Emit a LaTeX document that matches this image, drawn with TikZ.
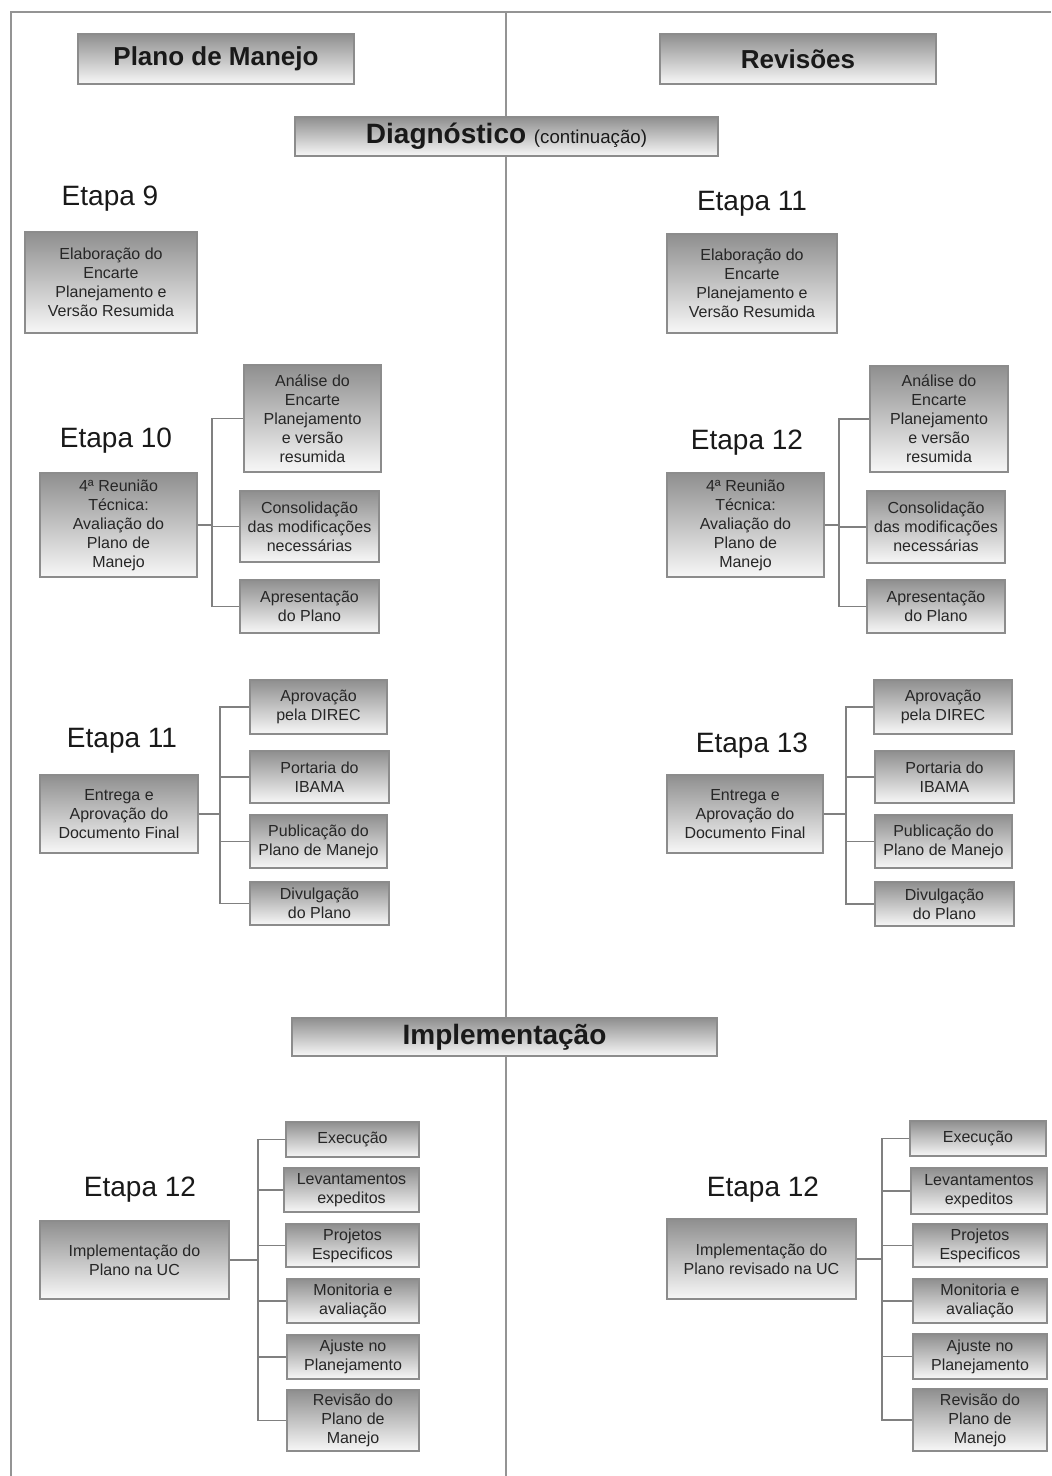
\documentclass[tikz,border=0pt]{standalone}
\usepackage{fontspec}
\setmainfont{Liberation Sans}

\begin{document}
\begin{tikzpicture}[
  x=0.75pt,y=-0.75pt,
  every node/.style={align=center,inner sep=2pt},
  caixa/.style 2 args={draw=black!45,line width=0.9pt,
    top color=black!44,bottom color=black!3,
    minimum width=#1*0.75pt,minimum height=#2*0.75pt,
    text=black!85,font=\fontsize{12}{14.25}\selectfont},
  titulo/.style 2 args={caixa={#1}{#2},text=black!90,
    font=\fontsize{19.5}{22}\selectfont\bfseries},
  etapa/.style={text=black!90,font=\fontsize{21}{24}\selectfont},
  linha/.style={draw=black!42,line width=1pt},
  ramo/.style={draw=black!50,line width=0.9pt}
]
\useasboundingbox (0,0) rectangle (1051,1476);
% moldura e divisao das colunas
\draw[linha] (11,1476) -- (11,12) -- (1051,12);
\draw[linha] (506,12) -- (506,1476);

% cabecalhos
\node[titulo={276}{50}] (plano) at (216,59) {Plano de Manejo};
\node[titulo={276}{50}] (revis) at (798,59) {Revisões};
\node[titulo={423}{39},font=\fontsize{21}{24}\selectfont\bfseries] (diag) at (506.5,136.5)
  {Diagnóstico {\fontsize{14}{16}\selectfont\mdseries (continuação)}};
\node[titulo={425}{38},font=\fontsize{21}{24}\selectfont\bfseries] (impl) at (504.5,1037)
  {Implementação};

% Plano de Manejo - diagnostico
\node[etapa] (et9) at (110,199) {Etapa 9};
\node[caixa={172}{101}] (elab9) at (111,282.5)
  {Elaboração do\\Encarte\\Planejamento e\\Versão Resumida};

\node[etapa] (et10) at (116,441) {Etapa 10};
\node[caixa={157}{104}] (reu10) at (118.5,525)
  {4ª Reunião\\Técnica:\\Avaliação do\\Plano de\\Manejo};
\node[caixa={137}{107}] (ana10) at (312.5,418.5)
  {Análise do\\Encarte\\Planejamento\\e versão\\resumida};
\node[caixa={139}{71}] (con10) at (309.5,526.5)
  {Consolidação\\das modificações\\necessárias};
\node[caixa={139}{53}] (apr10) at (309.5,606.5) {Apresentação\\do Plano};
\coordinate (b10) at (212,525);
\draw[ramo] (reu10.east) -- (b10);
\draw[ramo] (b10) |- (ana10.west);
\draw[ramo] (b10) |- (con10.west);
\draw[ramo] (b10) |- (apr10.west);

\node[etapa] (et11) at (122,741) {Etapa 11};
\node[caixa={158}{78}] (ent11) at (119,814)
  {Entrega e\\Aprovação do\\Documento Final};
\node[caixa={137}{54}] (aprov11) at (318.5,707) {Aprovação\\pela DIREC};
\node[caixa={139}{52}] (port11) at (319.5,777) {Portaria do\\IBAMA};
\node[caixa={137}{53}] (pub11) at (318.5,841.5) {Publicação do\\Plano de Manejo};
\node[caixa={139}{43}] (div11) at (319.5,903.5) {Divulgação\\do Plano};
\coordinate (b11) at (220,814);
\draw[ramo] (ent11.east) -- (b11);
\draw[ramo] (b11) |- (aprov11.west);
\draw[ramo] (b11) |- (port11.west);
\draw[ramo] (b11) |- (pub11.west);
\draw[ramo] (b11) |- (div11.west);

% Plano de Manejo - implementacao
\node[etapa] (et12) at (140,1190) {Etapa 12};
\node[caixa={189}{78}] (imp12) at (134.5,1260)
  {Implementação do\\Plano na UC};
\node[caixa={133}{35}] (exe12) at (352.5,1139.5) {Execução};
\node[caixa={135}{44}] (lev12) at (351.5,1190) {Levantamentos\\expeditos};
\node[caixa={133}{43}] (proj12) at (352.5,1245.5) {Projetos\\Especificos};
\node[caixa={132}{44}] (mon12) at (353,1301) {Monitoria e\\avaliação};
\node[caixa={132}{44}] (aju12) at (353,1357) {Ajuste no\\Planejamento};
\node[caixa={132}{61}] (rev12) at (353,1420.5) {Revisão do\\Plano de\\Manejo};
\coordinate (b12) at (258,1260);
\draw[ramo] (imp12.east) -- (b12);
\draw[ramo] (b12) |- (exe12.west);
\draw[ramo] (b12) |- (lev12.west);
\draw[ramo] (b12) |- (proj12.west);
\draw[ramo] (b12) |- (mon12.west);
\draw[ramo] (b12) |- (aju12.west);
\draw[ramo] (b12) |- (rev12.west);

% Revisoes - diagnostico
\node[etapa] (et11r) at (752,204) {Etapa 11};
\node[caixa={170}{99}] (elab11r) at (752,283.5)
  {Elaboração do\\Encarte\\Planejamento e\\Versão Resumida};

\node[etapa] (et12r) at (747,443) {Etapa 12};
\node[caixa={157}{104}] (reu12r) at (745.5,525)
  {4ª Reunião\\Técnica:\\Avaliação do\\Plano de\\Manejo};
\node[caixa={138}{106}] (ana12r) at (939,419)
  {Análise do\\Encarte\\Planejamento\\e versão\\resumida};
\node[caixa={138}{72}] (con12r) at (936,527)
  {Consolidação\\das modificações\\necessárias};
\node[caixa={138}{53}] (apr12r) at (936,606.5) {Apresentação\\do Plano};
\coordinate (b12r) at (839,525);
\draw[ramo] (reu12r.east) -- (b12r);
\draw[ramo] (b12r) |- (ana12r.west);
\draw[ramo] (b12r) |- (con12r.west);
\draw[ramo] (b12r) |- (apr12r.west);

\node[etapa] (et13r) at (752,746) {Etapa 13};
\node[caixa={156}{78}] (ent13r) at (745,814)
  {Entrega e\\Aprovação do\\Documento Final};
\node[caixa={138}{54}] (aprov13r) at (943,707) {Aprovação\\pela DIREC};
\node[caixa={139}{52}] (port13r) at (944.5,777) {Portaria do\\IBAMA};
\node[caixa={137}{53}] (pub13r) at (943.5,841.5) {Publicação do\\Plano de Manejo};
\node[caixa={139}{44}] (div13r) at (944.5,904) {Divulgação\\do Plano};
\coordinate (b13r) at (846,814);
\draw[ramo] (ent13r.east) -- (b13r);
\draw[ramo] (b13r) |- (aprov13r.west);
\draw[ramo] (b13r) |- (port13r.west);
\draw[ramo] (b13r) |- (pub13r.west);
\draw[ramo] (b13r) |- (div13r.west);

% Revisoes - implementacao
\node[etapa] (et12b) at (763,1190) {Etapa 12};
\node[caixa={189}{80}] (imp12r) at (761.5,1259)
  {Implementação do\\Plano revisado na UC};
\node[caixa={136}{35}] (exe12r) at (978,1138.5) {Execução};
\node[caixa={136}{46}] (lev12r) at (979,1191) {Levantamentos\\expeditos};
\node[caixa={134}{43}] (proj12r) at (980,1245.5) {Projetos\\Especificos};
\node[caixa={134}{44}] (mon12r) at (980,1301) {Monitoria e\\avaliação};
\node[caixa={134}{45}] (aju12r) at (980,1356.5) {Ajuste no\\Planejamento};
\node[caixa={134}{62}] (rev12r) at (980,1420) {Revisão do\\Plano de\\Manejo};
\coordinate (b12b) at (882,1259);
\draw[ramo] (imp12r.east) -- (b12b);
\draw[ramo] (b12b) |- (exe12r.west);
\draw[ramo] (b12b) |- (lev12r.west);
\draw[ramo] (b12b) |- (proj12r.west);
\draw[ramo] (b12b) |- (mon12r.west);
\draw[ramo] (b12b) |- (aju12r.west);
\draw[ramo] (b12b) |- (rev12r.west);
\end{tikzpicture}
\end{document}
